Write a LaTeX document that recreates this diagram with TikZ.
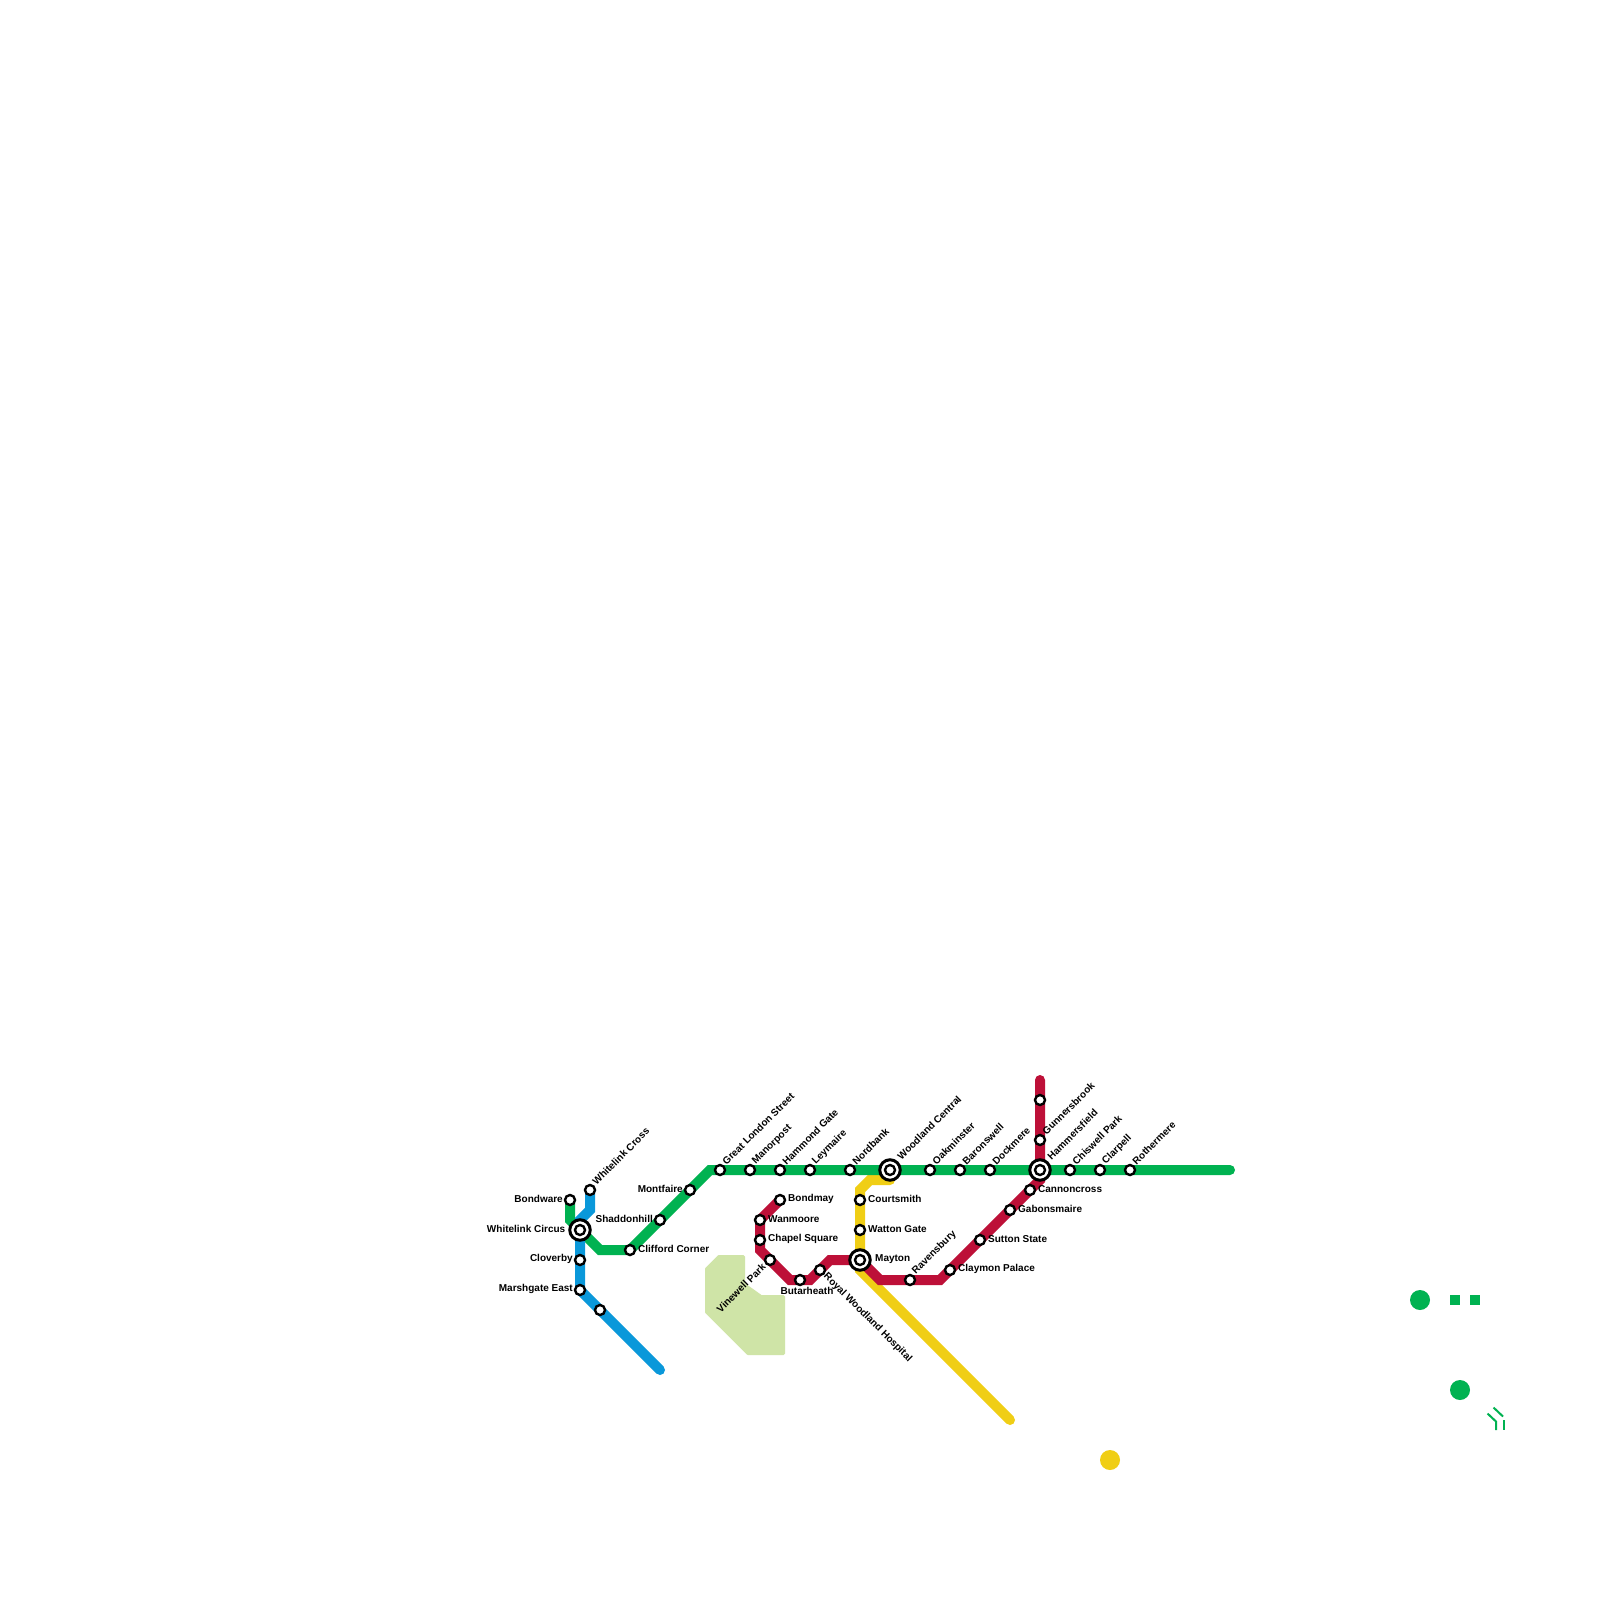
\documentclass[tikz,border=0pt]{standalone}
\usepackage{fontspec}
\setmainfont{Liberation Sans}
\definecolor{lgreen}{HTML}{00B251}
\definecolor{lblue}{HTML}{0A98DA}
\definecolor{lred}{HTML}{BD1038}
\definecolor{lyellow}{HTML}{F0CE15}
\definecolor{lpark}{HTML}{CFE4A7}
\tikzset{
  route/.style={line width=10pt,line cap=round,line join=miter},
  stn/.style={circle,draw=black,fill=white,line width=2.4pt,minimum size=10pt,inner sep=0pt,outer sep=0pt},
  xring/.style={circle,draw=black,fill=white,line width=3pt,minimum size=20.5pt,inner sep=0pt,outer sep=0pt},
  lab/.style={font=\bfseries\fontsize{10}{10}\selectfont,inner sep=0pt,text=black},
  lr/.style={lab,anchor=west},
  ll/.style={lab,anchor=east},
  lup/.style={lab,anchor=west,rotate=45},
  ldn/.style={lab,anchor=west,rotate=-45},
  lupr/.style={lab,anchor=east,rotate=45},
  dot/.style={circle,inner sep=0pt,outer sep=0pt,minimum size=20pt},
  sq/.style={fill=lgreen,inner sep=0pt,outer sep=0pt,minimum size=10pt},
  thin route/.style={draw=lgreen,line width=2pt}
}
\begin{document}
\begin{tikzpicture}[x=1pt,y=-1pt]
\useasboundingbox[fill=white] (0,0) rectangle (1600,1600);
% park
\fill[lpark,draw=lpark,line width=3pt,line join=round]
 (706.5,1269) -- (719,1256.5) -- (743.5,1256.5) -- (743.5,1284) -- (761,1296.5) -- (783.5,1296.5) -- (783.5,1353.5) -- (748,1353.5) -- (706.5,1312) -- cycle;
% bends and ends
\coordinate (gA) at (570,1220);
\coordinate (gB) at (600,1250);
\coordinate (gC) at (710,1170);
\coordinate (gEnd) at (1230,1170);
\coordinate (bA) at (590,1210);
\coordinate (bB) at (580,1220);
\coordinate (bEnd) at (660,1370);
\coordinate (yA) at (870,1180);
\coordinate (yB) at (860,1190);
\coordinate (yC) at (860,1270);
\coordinate (yD) at (890,1180);
\coordinate (yEnd) at (1010,1420);
\coordinate (rTop) at (1040,1080);
\coordinate (rA) at (1040,1180);
\coordinate (rB) at (940,1280);
\coordinate (rC) at (880,1280);
\coordinate (rD) at (830,1260);
\coordinate (rE) at (810,1280);
\coordinate (rF) at (790,1280);
\coordinate (rG) at (760,1250);
% station positions
\foreach \n/\x/\y in {bondware/570/1200,wcross/590/1190,wcircus/580/1230,cloverby/580/1260,marshgate/580/1290,noname/600/1310,
 clifford/630/1250,shaddon/660/1220,montfaire/690/1190,greatlondon/720/1170,manorpost/750/1170,hammond/780/1170,leymaire/810/1170,nordbank/850/1170,
 woodland/890/1170,oakminster/930/1170,baronswell/960/1170,dockmere/990/1170,hammersfield/1040/1170,chiswell/1070/1170,clarpell/1100/1170,rothermere/1130/1170,
 topred/1040/1100,gunners/1040/1140,cannon/1030/1190,gabons/1010/1210,sutton/980/1240,claymon/950/1270,ravens/910/1280,mayton/860/1260,
 royal/820/1270,butar/800/1280,vinewell/770/1260,chapel/760/1240,wanmoore/760/1220,bondmay/780/1200,courtsmith/860/1200,watton/860/1230}
 {\coordinate (p-\n) at (\x,\y);}
% routes
\draw[route,lyellow] (yD) -- (yA) -- (yB) -- (yC) -- (yEnd);
\draw[route,lgreen] (p-bondware) -- (gA) -- (gB) -- (p-clifford) -- (gC) -- (gEnd);
\draw[route,lblue] (p-wcross) -- (bA) -- (bB) -- (p-marshgate) -- (bEnd);
\draw[route,lred] (rTop) -- (rA) -- (rB) -- (rC) -- (p-mayton) -- (rD) -- (rE) -- (rF) -- (rG) -- (p-wanmoore) -- (p-bondmay);
% stations
\foreach \n in {bondware,wcross,cloverby,marshgate,noname,clifford,shaddon,montfaire,greatlondon,manorpost,hammond,leymaire,nordbank,
 oakminster,baronswell,dockmere,chiswell,clarpell,rothermere,topred,gunners,cannon,gabons,sutton,claymon,ravens,royal,butar,vinewell,chapel,wanmoore,bondmay,courtsmith,watton}
 {\node[stn] (s-\n) at (p-\n) {};}
\foreach \n in {wcircus,woodland,hammersfield,mayton}
 {\node[xring] (x-\n) at (p-\n) {}; \node[stn] (s-\n) at (p-\n) {};}
% labels
\node[ll] (t1) at (563,1199.2) {Bondware};
\node[lup] (t2) at (594,1183) {Whitelink Cross};
\node[ll] (t3) at (565.5,1229.2) {Whitelink Circus};
\node[ll] (t4) at (573,1259.2) {Cloverby};
\node[ll] (t5) at (573,1289.2) {Marshgate East};
\node[lr] (t6) at (638,1249.2) {Clifford Corner};
\node[ll] (t7) at (653,1219.2) {Shaddonhill};
\node[ll] (t8) at (683,1189.2) {Montfaire};
\foreach \i/\txt/\x in {9/Great London Street/724,10/Manorpost/754,11/Hammond Gate/784,12/Leymaire/814,13/Nordbank/854,15/Oakminster/934,16/Baronswell/964,17/Dockmere/994,19/Chiswell Park/1074,20/Clarpell/1104,21/Rothermere/1134}
 {\node[lup] (t\i) at (\x,1163) {\txt};}
\node[lup] (t14) at (899,1158) {Woodland Central};
\node[lup] (t18) at (1049,1158) {Hammersfield};
\node[lup] (t22) at (1044,1133) {Gunnersbrook};
\node[lr] (t23) at (1038,1189.2) {Cannoncross};
\node[lr] (t24) at (1018,1209.2) {Gabonsmaire};
\node[lr] (t25) at (988,1239.2) {Sutton State};
\node[lr] (t26) at (958,1269.2) {Claymon Palace};
\node[lup] (t27) at (914,1273) {Ravensbury};
\node[lr] (t28) at (875,1259.2) {Mayton};
\node[ldn] (t29) at (825,1275) {Royal Woodland Hospital};
\node[lab] (t30) at (807,1291) {Butarheath};
\node[lupr] (t31) at (764,1265) {Vinewell Park};
\node[lr] (t32) at (768,1239.2) {Chapel Square};
\node[lr] (t33) at (768,1219.2) {Wanmoore};
\node[lr] (t34) at (788,1199.2) {Bondmay};
\node[lr] (t35) at (868,1199.2) {Courtsmith};
\node[lr] (t36) at (868,1229.2) {Watton Gate};
% stray symbols
\node[dot,fill=lgreen] (d1) at (1420,1300) {};
\node[sq] (d2) at (1455,1300) {};
\node[sq] (d3) at (1475,1300) {};
\node[dot,fill=lgreen] (d4) at (1460,1390) {};
\node[dot,fill=lyellow] (d5) at (1110,1460) {};
\coordinate (f1) at (1487.5,1413.5);
\coordinate (f2) at (1496,1421.5);
\coordinate (f3) at (1496,1430);
\coordinate (f4) at (1493.5,1407.5);
\coordinate (f5) at (1503,1416.5);
\coordinate (f6) at (1504,1420);
\coordinate (f7) at (1504,1430);
\draw[thin route] (f1) -- (f2) -- (f3);
\draw[thin route] (f4) -- (f5);
\draw[thin route] (f6) -- (f7);
\end{tikzpicture}
\end{document}
